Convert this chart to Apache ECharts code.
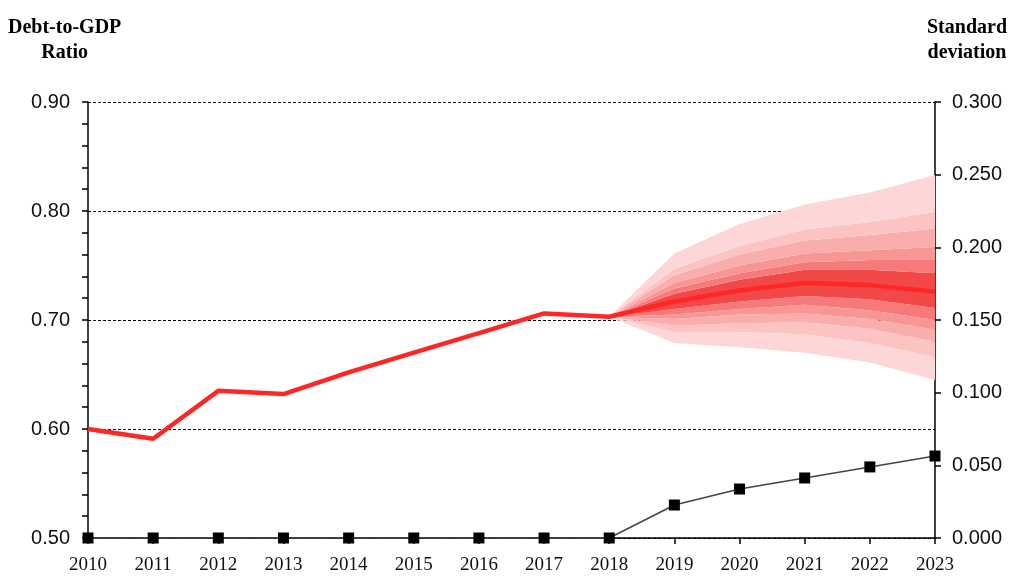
<!DOCTYPE html>
<html>
<head>
<meta charset="utf-8">
<script src="https://cdn.jsdelivr.net/npm/echarts@6/dist/echarts.min.js"></script>
<style>
  html, body { margin: 0; padding: 0; background: #fff; }
  #main { width: 1011px; height: 577px; }
</style>
</head>
<body>
<div id="main"></div>
<script>
// categories
var years = ['2010', '2011', '2012', '2013', '2014', '2015', '2016', '2017', '2018', '2019', '2020', '2021', '2022', '2023'];
// debt-to-GDP ratio (left axis)
var ratio = [0.600, 0.591, 0.635, 0.632, 0.652, 0.670, 0.688, 0.706, 0.703, 0.717, 0.727, 0.734, 0.732, 0.726];
// standard deviation (right axis)
var stdev = [0, 0, 0, 0, 0, 0, 0, 0, 0, 0.0227, 0.0337, 0.0413, 0.0489, 0.0564];

// fan chart band edges, 2018..2023 (outer -> inner)
var fanLo1 = [0.703, 0.679, 0.675, 0.670, 0.661, 0.645];
var fanLo2 = [0.703, 0.689, 0.689, 0.687, 0.679, 0.666];
var fanLo3 = [0.703, 0.695, 0.697, 0.698, 0.692, 0.680];
var fanLo4 = [0.703, 0.701, 0.705, 0.706, 0.701, 0.691];
var fanLo5 = [0.703, 0.705, 0.710, 0.714, 0.709, 0.700];
var fanLo6 = [0.703, 0.710, 0.717, 0.722, 0.719, 0.711];
var fanHi6 = [0.703, 0.724, 0.737, 0.746, 0.746, 0.743];
var fanHi5 = [0.703, 0.729, 0.743, 0.753, 0.755, 0.755];
var fanHi4 = [0.703, 0.734, 0.750, 0.761, 0.764, 0.767];
var fanHi3 = [0.703, 0.741, 0.760, 0.773, 0.778, 0.784];
var fanHi2 = [0.703, 0.747, 0.768, 0.783, 0.790, 0.799];
var fanHi1 = [0.703, 0.761, 0.788, 0.806, 0.817, 0.833];

var fanColors = ['#fdd7d7', '#fcc3c3', '#faadad', '#f89696', '#f67a7a', '#f24848'];

(function(){
    var edges = [fanLo1, fanLo2, fanLo3, fanLo4, fanLo5, fanLo6, fanHi6, fanHi5, fanHi4, fanHi3, fanHi2, fanHi1];
    var bandColor = [0, 1, 2, 3, 4, 5, 4, 3, 2, 1, 0];
    var pad = years.length - fanLo1.length;

    function padded(arr){
        var out = [];
        for (var i = 0; i < pad; i++) out.push('-');
        return out.concat(arr);
    }

    var series = [];
    // invisible base of the fan
    series.push({
        type: 'line', stack: 'fan', data: padded(fanLo1),
        symbol: 'none', lineStyle: {opacity: 0}, silent: true, z: 1
    });
    for (var k = 1; k < edges.length; k++) {
        var diff = [];
        for (var j = 0; j < edges[k].length; j++) diff.push(edges[k][j] - edges[k - 1][j]);
        series.push({
            type: 'line', stack: 'fan', data: padded(diff),
            symbol: 'none', lineStyle: {width: 0, opacity: 0}, silent: true, z: 1,
            areaStyle: {color: fanColors[bandColor[k - 1]], opacity: 1}
        });
    }
    series.push({
        name: 'Debt-to-GDP', type: 'line', data: ratio,
        symbol: 'none', z: 3,
        lineStyle: {color: '#ff2626', width: 4.5}
    });
    series.push({
        name: 'Standard deviation', type: 'line', yAxisIndex: 1, data: stdev,
        symbol: 'rect', symbolSize: 11, clip: false, z: 4,
        itemStyle: {color: '#000'},
        lineStyle: {color: '#444', width: 1.5}
    });

    var labelFont = {color: '#111', fontFamily: '"Liberation Sans", Arial, sans-serif', fontSize: 20};

    var option = {
        animation: false,
        grid: {left: 88, right: 76, top: 102, bottom: 39},
        graphic: [
            {type: 'text', left: 8, top: 15, style: {
                text: 'Debt-to-GDP\nRatio', textAlign: 'center',
                font: 'bold 20px "Liberation Serif", "Times New Roman", serif', fill: '#000', lineHeight: 25
            }},
            {type: 'text', right: 4, top: 15, style: {
                text: 'Standard\ndeviation', textAlign: 'center',
                font: 'bold 20px "Liberation Serif", "Times New Roman", serif', fill: '#000', lineHeight: 25
            }}
        ],
        xAxis: {
            type: 'category', data: years, boundaryGap: false,
            axisLine: {lineStyle: {color: '#000', width: 1.5}},
            axisTick: {length: 6, lineStyle: {color: '#000', width: 1.5}},
            axisLabel: {color: '#111', fontFamily: '"Liberation Serif", "Times New Roman", serif', fontSize: 19, margin: 18},
            splitLine: {show: false}
        },
        yAxis: [
            {
                type: 'value', min: 0.5, max: 0.9, interval: 0.1,
                axisLine: {show: true, lineStyle: {color: '#000', width: 1.5}},
                axisTick: {show: true, length: 6, lineStyle: {color: '#000', width: 1.5}},
                minorTick: {show: true, splitNumber: 5, length: 6, lineStyle: {color: '#000', width: 1.5}},
                axisLabel: Object.assign({margin: 18, formatter: function(v){ return v.toFixed(2); }}, labelFont),
                splitLine: {show: true, lineStyle: {color: '#000', type: [3, 2], width: 1}}
            },
            {
                type: 'value', min: 0, max: 0.3, interval: 0.05, position: 'right',
                axisLine: {show: true, lineStyle: {color: '#000', width: 1.5}},
                axisTick: {show: true, length: 6, lineStyle: {color: '#000', width: 1.5}},
                axisLabel: Object.assign({margin: 17, formatter: function(v){ return v.toFixed(3); }}, labelFont),
                splitLine: {show: false}
            }
        ],
        series: series
    };

    var myChart = echarts.init(document.getElementById('main'));
    myChart.setOption(option);
})();
</script>
</body>
</html>
